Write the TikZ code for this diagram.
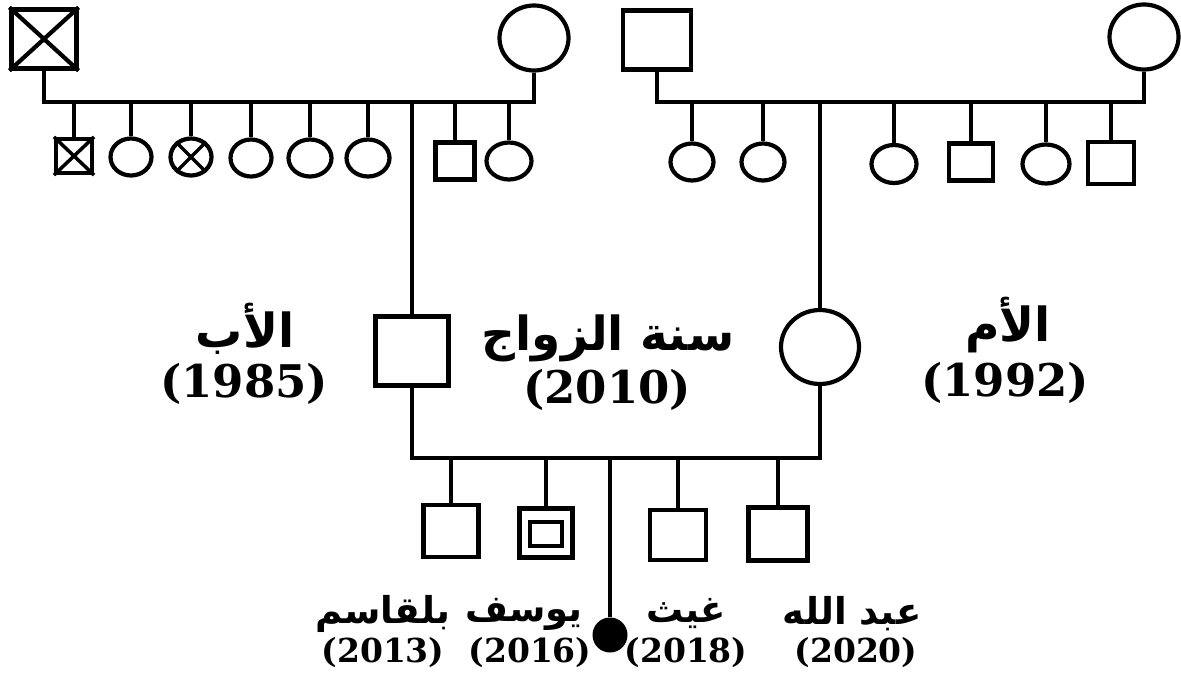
\documentclass[tikz,border=0pt]{standalone}
\usepackage{fontspec}
\setmainfont{DejaVu Serif}
\newfontfamily\arabicfont[Script=Arabic]{DejaVu Sans}
\newfontfamily\yearfont{DejaVu Serif}
\TeXXeTstate=1
\usetikzlibrary{shapes.geometric}
\tikzset{
  ln/.style={line width=4.2pt},
  sq/.style={draw, line width=4.2pt, rectangle, inner sep=0pt},
  el/.style={draw, line width=4.2pt, ellipse, inner sep=0pt},
  bigname/.style={font=\arabicfont\bfseries\fontsize{47}{50}\selectfont, inner sep=0pt},
  bigyear/.style={font=\yearfont\bfseries\fontsize{45}{48}\selectfont, inner sep=0pt},
  smallname/.style={font=\arabicfont\bfseries\fontsize{37}{40}\selectfont, inner sep=0pt},
  smallyear/.style={font=\yearfont\bfseries\fontsize{33}{36}\selectfont, inner sep=0pt},
}
\begin{document}
\begin{tikzpicture}[x=1pt, y=-1pt]
\useasboundingbox (0,0) rectangle (1181,678);
% ---------- paternal grandparents ----------
\node[sq, minimum width=65pt, minimum height=59pt] (gf) at (44,39) {};
\draw[ln] (gf.north west) -- (gf.south east) (gf.north east) -- (gf.south west);
\node[el, minimum width=69pt, minimum height=65pt] (gm) at (534,38) {};
\coordinate (L1) at (0,102);
\draw[ln] (gf.south) -- (gf.south |- L1) -- (gm.south |- L1) -- (gm.south);
% paternal siblings
\node[sq, minimum width=36pt, minimum height=34pt] (a1) at (74,156) {};
\draw[line width=3.5pt] (a1.north west) -- (a1.south east) (a1.north east) -- (a1.south west);
\node[el, minimum width=41pt, minimum height=37pt] (a2) at (131,157) {};
\node[el, minimum width=41pt, minimum height=37pt] (a3) at (191,157) {};
\draw[line width=3.5pt] (a3.135) -- (a3.-45) (a3.45) -- (a3.-135);
\node[el, minimum width=41pt, minimum height=37pt] (a4) at (251,158) {};
\node[el, minimum width=43pt, minimum height=37pt] (a5) at (310,158) {};
\node[el, minimum width=43pt, minimum height=37pt] (a6) at (368,158) {};
\node[sq, minimum width=39pt, minimum height=37pt] (a7) at (455,161) {};
\node[el, minimum width=45pt, minimum height=37pt] (a8) at (509,161) {};
\foreach \n in {a1,a2,a3,a4,a5,a6,a7,a8} \draw[ln] (\n.north) -- (\n.north |- L1);
% ---------- maternal grandparents ----------
\node[sq, minimum width=68pt, minimum height=59pt] (pf) at (657,40) {};
\node[el, minimum width=69pt, minimum height=65pt] (pm) at (1144,37) {};
\draw[ln] (pf.south) -- (pf.south |- L1) -- (pm.south |- L1) -- (pm.south);
\node[el, minimum width=43pt, minimum height=37pt] (b1) at (692,162) {};
\node[el, minimum width=43pt, minimum height=37pt] (b2) at (763,162) {};
\node[el, minimum width=45pt, minimum height=38pt] (b3) at (894,164) {};
\node[sq, minimum width=44pt, minimum height=37pt] (b4) at (971,162) {};
\node[el, minimum width=47pt, minimum height=39pt] (b5) at (1046,164) {};
\node[sq, minimum width=46pt, minimum height=42pt] (b6) at (1111,163) {};
\foreach \n in {b1,b2,b3,b4,b5,b6} \draw[ln] (\n.north) -- (\n.north |- L1);
% ---------- parents ----------
\node[sq, minimum width=73pt, minimum height=69pt] (father) at (412,351) {};
\node[el, minimum width=78pt, minimum height=74pt] (mother) at (820,347) {};
\draw[ln] (father.north) -- (father.north |- L1);
\draw[ln] (mother.north) -- (mother.north |- L1);
\coordinate (M) at (0,458);
\draw[ln] (father.south) -- (father.south |- M) -- (mother.south |- M) -- (mother.south);
% ---------- children ----------
\node[sq, minimum width=55pt, minimum height=52pt] (k1) at (451,531) {};
\node[sq, minimum width=53pt, minimum height=49pt] (k2) at (546,533) {};
\node[draw, line width=3.5pt, rectangle, inner sep=0pt, minimum width=32pt, minimum height=24pt] (k2i) at (546,534) {};
\node[sq, minimum width=56pt, minimum height=50pt] (k3) at (678,535) {};
\node[sq, minimum width=59pt, minimum height=53pt] (k4) at (778,534) {};
\foreach \n in {k1,k2,k3,k4} \draw[ln] (\n.north) -- (\n.north |- M);
\node[circle, fill=black, inner sep=0pt, minimum size=35pt] (dot) at (610,635) {};
\coordinate (mc) at (610,458);
\draw[ln] (mc) -- (dot.north);
% ---------- labels ----------
\node[bigname] (tfa) at (245,329) {\beginR الأب\endR};
\node[bigyear] (yfa) at (244,384) {(1985)};
\node[bigname] (tma) at (1008,325) {\beginR الأم\endR};
\node[bigyear] (yma) at (1005,383) {(1992)};
\node[bigname] (tmar) at (608,338) {\beginR سنة الزواج\endR};
\node[bigyear] (ymar) at (607,390) {(2010)};
\node[smallname] (n1) at (383,614) {\beginR بلقاسم\endR};
\node[smallyear] (y1) at (383,653) {(2013)};
\node[smallname] (n2) at (524,614) {\beginR يوسف\endR};
\node[smallyear] (y2) at (530,653) {(2016)};
\node[smallname] (n3) at (686,614) {\beginR غيث\endR};
\node[smallyear] (y3) at (686,653) {(2018)};
\node[smallname] (n4) at (852,614) {\beginR عبد الله\endR};
\node[smallyear] (y4) at (856,653) {(2020)};
\end{tikzpicture}
\end{document}
